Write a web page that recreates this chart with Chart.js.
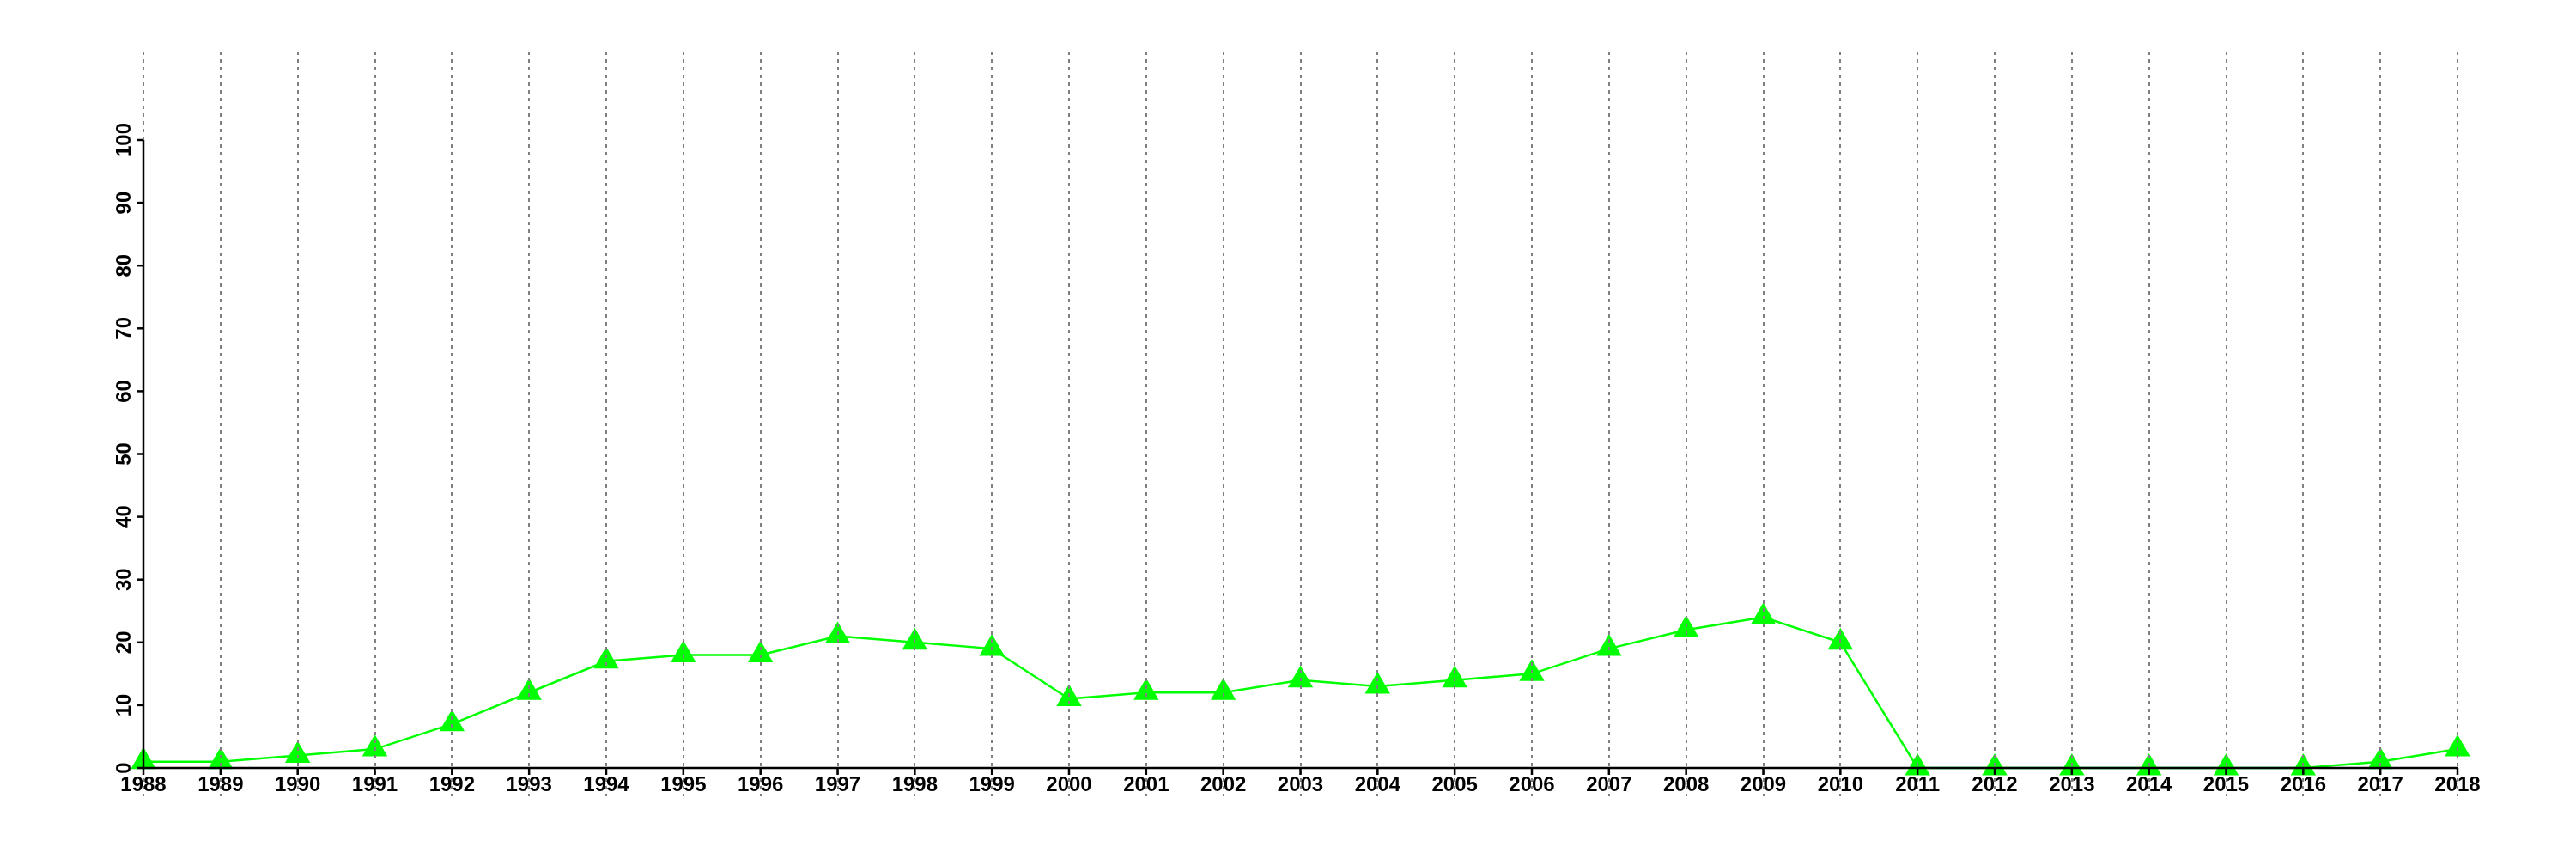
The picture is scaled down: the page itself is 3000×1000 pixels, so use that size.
<!DOCTYPE html>
<html>
<head>
<meta charset="utf-8">
<script src="https://cdn.jsdelivr.net/npm/chart.js@4/dist/chart.umd.min.js"></script>
<style>
  body { margin: 0; background: #fff; }
  #chart { display: block; }
</style>
</head>
<body>
<canvas id="chart" width="3000" height="1000"></canvas>
<script>
const years = ["1988", "1989", "1990", "1991", "1992", "1993", "1994", "1995", "1996", "1997",
  "1998", "1999", "2000", "2001", "2002", "2003", "2004", "2005", "2006", "2007",
  "2008", "2009", "2010", "2011", "2012", "2013", "2014", "2015", "2016", "2017", "2018"];
const counts = [1, 1, 2, 3, 7, 12, 17, 18, 18, 21,
  20, 19, 11, 12, 12, 14, 13, 14, 15, 19,
  22, 24, 20, 0, 0, 0, 0, 0, 0, 1, 3];
const yTicks = [0, 10, 20, 30, 40, 50, 60, 70, 80, 90, 100];

const labelFont = "bold 24px 'Liberation Sans', Arial, sans-serif";

// R-style axes and dashed verticals, drawn over the data like the original
const axesPlugin = {
  id: "rAxes",
  afterDatasetsDraw(chart) {
    const ctx = chart.ctx;
    const x = chart.scales.x;
    const y = chart.scales.y;
    const y0 = y.getPixelForValue(0);
    const yTop = y.getPixelForValue(100);

    ctx.save();

    // dashed vertical grid lines
    ctx.strokeStyle = "#808080";
    ctx.lineWidth = 2;
    ctx.setLineDash([4, 5]);
    years.forEach((yr, i) => {
      const px = Math.round(x.getPixelForValue(i));
      ctx.beginPath();
      ctx.moveTo(px, 60);
      ctx.lineTo(px, 927);
      ctx.stroke();
    });
    ctx.setLineDash([]);

    // axis lines
    ctx.strokeStyle = "#000";
    ctx.lineWidth = 2.5;
    const xLeft = x.getPixelForValue(0);
    const xRight = x.getPixelForValue(years.length - 1);
    ctx.beginPath();
    ctx.moveTo(xLeft, y0);
    ctx.lineTo(xRight, y0);
    ctx.moveTo(xLeft, y0);
    ctx.lineTo(xLeft, yTop);
    ctx.stroke();

    // x ticks and labels
    ctx.fillStyle = "#000";
    ctx.font = labelFont;
    ctx.textAlign = "center";
    ctx.textBaseline = "alphabetic";
    years.forEach((yr, i) => {
      const px = x.getPixelForValue(i);
      ctx.beginPath();
      ctx.moveTo(px, y0);
      ctx.lineTo(px, y0 + 8);
      ctx.stroke();
      ctx.fillText(yr, px, 921);
    });

    // y ticks and rotated labels
    yTicks.forEach((v) => {
      const py = y.getPixelForValue(v);
      ctx.beginPath();
      ctx.moveTo(xLeft - 8, py);
      ctx.lineTo(xLeft, py);
      ctx.stroke();
      ctx.save();
      ctx.translate(152, py);
      ctx.rotate(-Math.PI / 2);
      ctx.fillText(String(v), 0, 0);
      ctx.restore();
    });

    ctx.restore();
  },
};

new Chart(document.getElementById("chart"), {
  type: "line",
  data: {
    labels: years,
    datasets: [{
      data: counts,
      borderColor: "#00ff00",
      backgroundColor: "#00ff00",
      borderWidth: 2.5,
      pointStyle: "triangle",
      pointRadius: 17,
      pointBorderWidth: 0,
      pointBackgroundColor: "#00ff00",
      tension: 0,
      clip: false,
    }],
  },
  options: {
    responsive: false,
    animation: false,
    layout: {
      padding: { left: 167, right: 138, top: 163, bottom: 106 },
    },
    plugins: {
      legend: { display: false },
      tooltip: { enabled: false },
    },
    scales: {
      x: { display: false, offset: false },
      y: { display: false, min: 0, max: 100 },
    },
  },
  plugins: [axesPlugin],
});
</script>
</body>
</html>
